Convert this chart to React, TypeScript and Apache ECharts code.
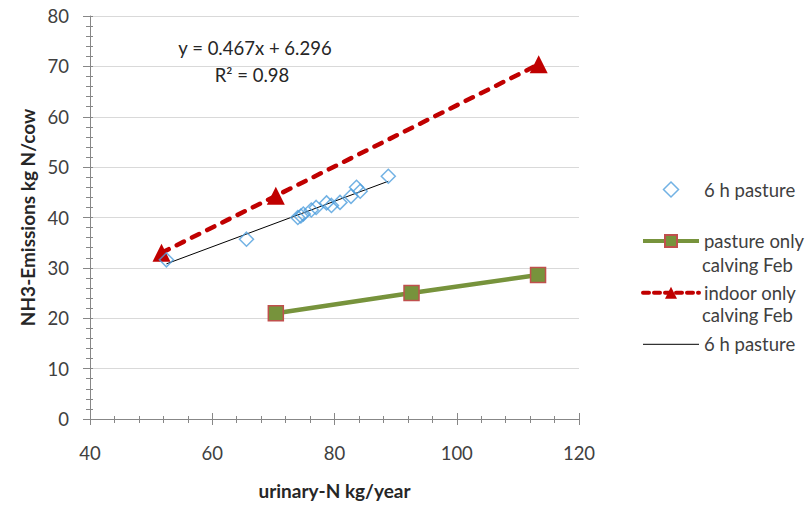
import React, { useEffect, useRef } from "react";
import * as echarts from "echarts";

// ---- data ----
const seriesNames = [
  "6 h pasture",
  "pasture only calving Feb",
  "indoor only calving Feb",
  "6 h pasture (linear)",
];
const legendFirstLines = ["6 h pasture", "pasture only", "indoor only", "6 h pasture"];
const legendSecondLines = ["calving Feb", "calving Feb"];

const pasture6hX = [52.5, 65.6, 74.0, 74.5, 74.9, 76.2, 77.0, 78.7, 79.5, 80.9, 82.7, 83.6, 84.2, 88.8];
const pasture6hY = [31.6, 35.7, 40.0, 40.3, 40.7, 41.5, 42.0, 42.9, 42.4, 43.0, 44.2, 46.0, 45.2, 48.2];

const pastureOnlyX = [70.4, 92.6, 113.3];
const pastureOnlyY = [21.0, 25.0, 28.6];

const indoorOnlyX = [51.7, 70.4, 113.4];
const indoorOnlyY = [33.0, 44.3, 70.4];

const trendX = [52.5, 88.8];
const trendY = [30.8, 47.2];

const equationText = "y = 0.467x + 6.296";
const rSquaredText = "R² = 0.98";

const xAxisName = "urinary-N kg/year";
const yAxisName = "NH3-Emissions kg N/cow";
const xMin = 40, xMax = 120, xStep = 20;
const yMin = 0, yMax = 80, yStep = 10;

const FONT = "Lato, 'Open Sans', sans-serif";
const TEXT = "#404040";
const AXIS = "#878787";
const FS = 18.5;

const zip = (xs: number[], ys: number[]) => xs.map((x, i) => [x, ys[i]]);

export default function App() {
  const ref = useRef<HTMLDivElement>(null);
  useEffect(() => {
    if (!ref.current) return;
    const chart = echarts.init(ref.current, undefined, { renderer: "svg" });
    const labelMap: Record<string, string> = {};
    seriesNames.forEach((n, i) => (labelMap[n] = legendFirstLines[i]));

    const baseX = {
      type: "value",
      min: xMin,
      max: xMax,
      interval: xStep,
      position: "bottom",
      splitLine: { show: false },
    };
    const baseY = {
      type: "value",
      min: yMin,
      max: yMax,
      interval: yStep,
      position: "left",
    };

    chart.setOption({
      animation: false,
      backgroundColor: "#ffffff",
      textStyle: { fontFamily: FONT },
      grid: { left: 90, right: 231, top: 16, bottom: 86, containLabel: false, outerBoundsMode: "none" },
      xAxis: [
        {
          ...baseX,
          axisLine: { show: true, lineStyle: { color: AXIS, width: 1 } },
          axisTick: { show: true, length: 6, lineStyle: { color: AXIS } },
          minorTick: { show: true, splitNumber: 5, length: 4, lineStyle: { color: AXIS } },
          axisLabel: { margin: 24, fontSize: FS, color: TEXT, fontFamily: FONT },
          name: xAxisName,
          nameLocation: "middle",
          nameGap: 62,
          nameTextStyle: { fontSize: 19, fontWeight: "bold", color: "#262626", fontFamily: FONT },
        },
        {
          ...baseX,
          axisLine: { show: false },
          axisTick: { show: true, inside: true, length: 6, lineStyle: { color: AXIS } },
          minorTick: { show: true, splitNumber: 5, length: 3, lineStyle: { color: AXIS } },
          axisLabel: { show: false },
        },
      ],
      yAxis: [
        {
          ...baseY,
          axisLine: { show: true, lineStyle: { color: AXIS, width: 1 } },
          axisTick: { show: true, length: 7, lineStyle: { color: AXIS } },
          minorTick: { show: true, splitNumber: 5, length: 4, lineStyle: { color: AXIS } },
          splitLine: { show: true, lineStyle: { color: "#D9D9D9", width: 1 } },
          axisLabel: { margin: 21, fontSize: FS, color: TEXT, fontFamily: FONT },
          name: yAxisName,
          nameLocation: "middle",
          nameGap: 38,
          nameRotate: 90,
          nameTextStyle: { fontSize: 19, fontWeight: "bold", color: "#262626", fontFamily: FONT },
        },
        {
          ...baseY,
          axisLine: { show: false },
          axisTick: { show: true, inside: true, length: 3, lineStyle: { color: AXIS } },
          minorTick: { show: true, splitNumber: 5, length: 3, lineStyle: { color: AXIS } },
          splitLine: { show: false },
          axisLabel: { show: false },
        },
      ],
      legend: {
        orient: "vertical",
        left: 641,
        top: 180,
        padding: 0,
        itemWidth: 56,
        itemHeight: 15,
        itemGap: 32.6,
        selectedMode: false,
        symbolKeepAspect: true,
        formatter: (name: string) => labelMap[name] ?? name,
        textStyle: { fontSize: FS, lineHeight: 18, color: TEXT, fontFamily: FONT },
        data: [
          {
            name: seriesNames[0],
            icon: "path://M0,-7L7,0L0,7L-7,0Z",
            itemStyle: { color: "rgba(255,255,255,0)", borderColor: "#4F9FDD", borderWidth: 1.5 },
          },
          { name: seriesNames[1], lineStyle: { width: 4 } },
          { name: seriesNames[2], lineStyle: { width: 4, type: [6, 5] } },
          { name: seriesNames[3], lineStyle: { width: 1 }, itemStyle: { opacity: 0 } },
        ],
      },
      graphic: [
        {
          type: "text",
          x: 255,
          y: 48,
          style: { text: equationText, fontSize: FS, fontFamily: FONT, fill: "#262626", align: "center", verticalAlign: "middle" },
        },
        {
          type: "text",
          x: 252,
          y: 75,
          style: { text: rSquaredText, fontSize: FS, fontFamily: FONT, fill: "#262626", align: "center", verticalAlign: "middle" },
        },
        {
          type: "text",
          x: 702,
          y: 264.5,
          style: { text: legendSecondLines[0], fontSize: FS, fontFamily: FONT, fill: TEXT, verticalAlign: "middle" },
        },
        {
          type: "text",
          x: 702,
          y: 315,
          style: { text: legendSecondLines[1], fontSize: FS, fontFamily: FONT, fill: TEXT, verticalAlign: "middle" },
        },
      ],
      series: [
        {
          name: seriesNames[3],
          type: "line",
          data: zip(trendX, trendY),
          symbol: "none",
          lineStyle: { color: "#000000", width: 1 },
          itemStyle: { color: "#000000" },
          z: 2,
        },
        {
          name: seriesNames[2],
          type: "line",
          data: zip(indoorOnlyX, indoorOnlyY),
          symbol: "triangle",
          symbolSize: 18,
          lineStyle: { color: "#C00000", width: 4.5, type: [8, 9], cap: "round" },
          itemStyle: { color: "#C00000" },
          z: 3,
        },
        {
          name: seriesNames[1],
          type: "line",
          data: zip(pastureOnlyX, pastureOnlyY),
          symbol: "rect",
          symbolSize: 15,
          lineStyle: { color: "#77933C", width: 4.5 },
          itemStyle: { color: "#77933C", borderColor: "#C0504D", borderWidth: 1.5 },
          z: 3,
        },
        {
          name: seriesNames[0],
          type: "scatter",
          data: zip(pasture6hX, pasture6hY),
          symbol: "diamond",
          symbolSize: 14,
          itemStyle: { color: "rgba(255,255,255,0)", borderColor: "#4F9FDD", borderWidth: 1.5 },
          z: 4,
        },
      ],
    });
    return () => chart.dispose();
  }, []);
  return (
    <div
      ref={ref}
      style={{ position: "fixed", left: 0, top: 0, width: 810, height: 505, background: "#fff" }}
    />
  );
}
